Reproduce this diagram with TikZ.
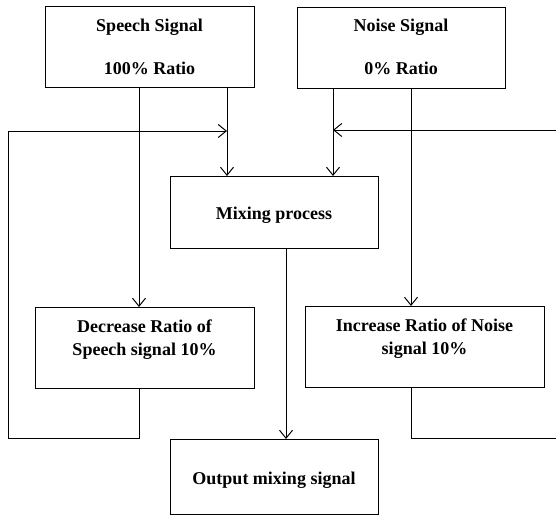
\documentclass[tikz,border=0pt]{standalone}
\usepackage{fontspec}
\setmainfont{Liberation Serif}
\usetikzlibrary{arrows.meta}
\begin{document}
\begin{tikzpicture}[x=1pt,y=-1pt,
  box/.style={draw,line width=1pt,inner sep=0pt},
  lbl/.style={font=\fontsize{18}{23}\selectfont\bfseries,align=center},
  conn/.style={line width=1pt},
  arr/.style={conn,-{Straight Barb[length=8pt,width=13pt,line width=1pt]}}]
\useasboundingbox (0,0) rectangle (556,516);
% boxes
\node[box,minimum width=209pt,minimum height=81pt] (sp) at (149.5,47.5) {};
\node[lbl] (spt1) at (149.5,27) {Speech Signal};
\node[lbl] (spt2) at (149.5,68) {100\% Ratio};
\node[box,minimum width=208pt,minimum height=81pt] (no) at (401,48.5) {};
\node[lbl] (not1) at (401,27) {Noise Signal};
\node[lbl] (not2) at (401,68) {0\% Ratio};
\node[box,minimum width=208pt,minimum height=72pt] (mx) at (274,212) {};
\node[lbl] (mxt) at (274,215) {Mixing process};
\node[box,minimum width=219pt,minimum height=81pt] (de) at (144.5,347.5) {};
\node[lbl,anchor=north] (det) at (144.5,316) {Decrease Ratio of\\Speech signal 10\%};
\node[box,minimum width=239pt,minimum height=81pt] (in) at (424.5,346.5) {};
\node[lbl,anchor=north] (int) at (424.5,315) {Increase Ratio of Noise\\signal 10\%};
\node[box,minimum width=208pt,minimum height=75pt] (out) at (274,476.5) {};
\node[lbl] (outt) at (274,480) {Output mixing signal};
% coordinates
\coordinate (spa) at (139,88);
\coordinate (spb) at (227,88);
\coordinate (mxa) at (227,176);
\coordinate (noa) at (333,89);
\coordinate (nob) at (411,89);
\coordinate (mxb) at (333,176);
\coordinate (dea) at (139,307);
\coordinate (deb) at (139,388);
\coordinate (ina) at (411,306);
\coordinate (inb) at (411,387);
\coordinate (mxc) at (286,248);
\coordinate (outa) at (286,439);
\coordinate (fl) at (227,131);
\coordinate (fr) at (333,130);
% connectors
\draw[arr] (spb) -- (mxa);
\draw[arr] (noa) -- (mxb);
\draw[arr] (spa) -- (dea);
\draw[arr] (nob) -- (ina);
\draw[arr] (mxc) -- (outa);
\draw[arr] (deb) -- (139,438) -- (8,438) -- (8,131) -- (fl);
\draw[arr] (inb) -- (411,438) -- (560,438) -- (560,130) -- (fr);
\end{tikzpicture}
\end{document}
